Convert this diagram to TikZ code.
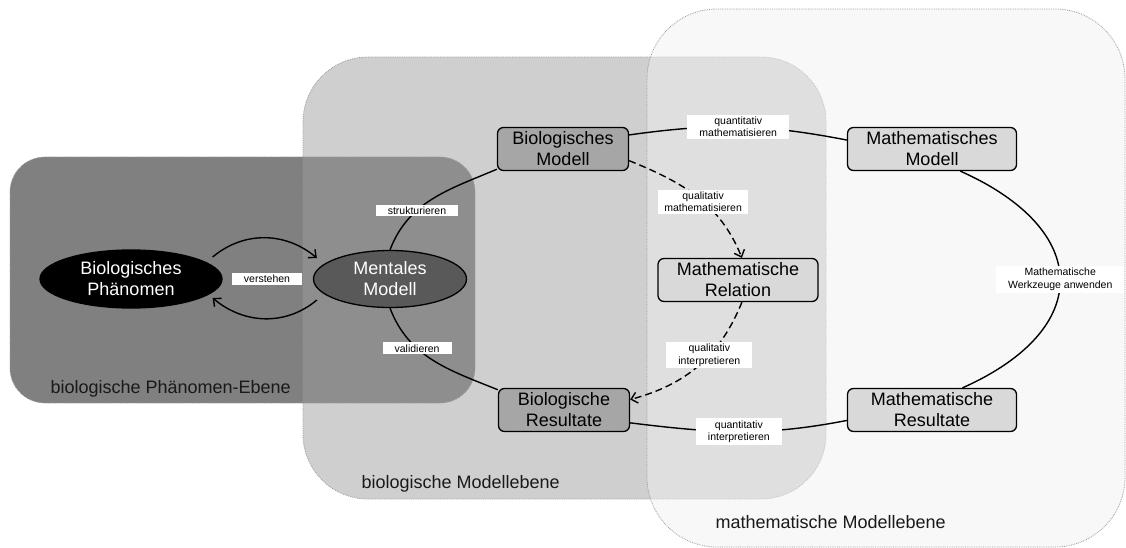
\documentclass[tikz,border=0pt]{standalone}
\usepackage{fontspec}
\setmainfont{Liberation Sans}
\usetikzlibrary{shapes.geometric,arrows.meta}
\definecolor{phaenfarbe}{gray}{0.5}
\definecolor{biofarbe}{gray}{0.62}
\definecolor{mathfarbe}{gray}{0.94}
\definecolor{randfarbe}{gray}{0.6}
\definecolor{bioknoten}{gray}{0.65}
\definecolor{mathknoten}{gray}{0.85}
\begin{document}
\begin{tikzpicture}[x=1pt,y=1pt,
        >={Straight Barb[length=6pt,width=11pt]},
        ebene/.style={draw=randfarbe,densely dotted,line width=0.8pt},
        oval/.style={ellipse,draw=black,line width=1.3pt,text=white,align=center,inner sep=0pt,font=\fontsize{18}{21}\selectfont},
        kasten/.style={rectangle,rounded corners=6pt,draw=black,line width=1.3pt,align=center,inner sep=0pt,minimum height=43pt,font=\fontsize{18}{21}\selectfont},
        etikett/.style={fill=white,align=center,inner xsep=12pt,inner ysep=2pt,font=\fontsize{10.5}{12.5}\selectfont},
        titel/.style={anchor=base west,text=black!90,font=\fontsize{18}{21}\selectfont},
        linie/.style={line width=1.4pt},
        strich/.style={line width=1.4pt,dash pattern=on 7pt off 4pt}]
        \useasboundingbox (0,0) rectangle (1126,-548);
        \draw[ebene,fill=phaenfarbe,rounded corners=35pt] (10,-157) rectangle (475,-403);
        \draw[ebene,fill=biofarbe,fill opacity=0.49,rounded corners=65pt] (303,-57) rectangle (826,-499);
        \draw[ebene,fill=mathfarbe,fill opacity=0.49,rounded corners=70pt] (647,-9) rectangle (1125,-547);
        \node[titel] (tphaen) at (47,-393) {biologische Phänomen-Ebene};
        \node[titel] (tbio) at (358,-488) {biologische Modellebene};
        \node[titel] (tmath) at (712,-528) {mathematische Modellebene};

        \node[oval,fill=black,minimum width=182pt,minimum height=58pt] (phaen) at (131,-279) {Biologisches\\Phänomen};
        \node[oval,fill=black!65,minimum width=153pt,minimum height=57pt] (mental) at (390,-279) {Mentales\\Modell};
        \node[kasten,fill=bioknoten,minimum width=131pt] (biomod) at (563,-149) {Biologisches\\Modell};
        \node[kasten,fill=bioknoten,minimum width=131pt] (biores) at (564,-410) {Biologische\\Resultate};
        \node[kasten,fill=mathknoten,minimum width=160pt] (relation) at (738,-280) {Mathematische\\Relation};
        \node[kasten,fill=mathknoten,minimum width=169pt] (mathmod) at (932,-149) {Mathematisches\\Modell};
        \node[kasten,fill=mathknoten,minimum width=169pt] (mathres) at (932,-410) {Mathematische\\Resultate};

        \draw[linie,->] ([shift={(-10,22)}]phaen.east) to[out=40,in=140] ([shift={(4,21)}]mental.west);
        \draw[linie,->] ([shift={(4,-21)}]mental.west) to[out=-140,in=-40] ([shift={(-10,-19)}]phaen.east);
        \node[etikett] (verstehen) at (267,-279) {verstehen};

        \draw[linie] (mental.north) to[out=69,in=203] node[etikett,pos=0.35] {strukturieren} (biomod.197);
        \draw[linie] (mental.south) to[out=-69,in=158] node[etikett,pos=0.35] {validieren} (biores.163);
        \draw[linie] (biomod.12) to[out=8,in=169] node[etikett] {quantitativ\\mathematisieren} (mathmod.174);
        \draw[linie] (biores.-11) to[out=-7,in=191] node[etikett] {quantitativ\\interpretieren} (mathres.187);
        \draw[linie] (mathmod.-38) to[out=-24,in=24,looseness=1.7] node[etikett] {Mathematische\\Werkzeuge anwenden} (mathres.36);

        \draw[strich,->] (biomod.-10) to[out=-22,in=112] node[etikett,inner xsep=6pt,pos=0.55] {qualitativ\\mathematisieren} (relation.80);
        \draw[strich,->] (relation.-80) to[out=-112,in=15] node[etikett,pos=0.4] {qualitativ\\interpretieren} (biores.9);
\end{tikzpicture}
\end{document}
